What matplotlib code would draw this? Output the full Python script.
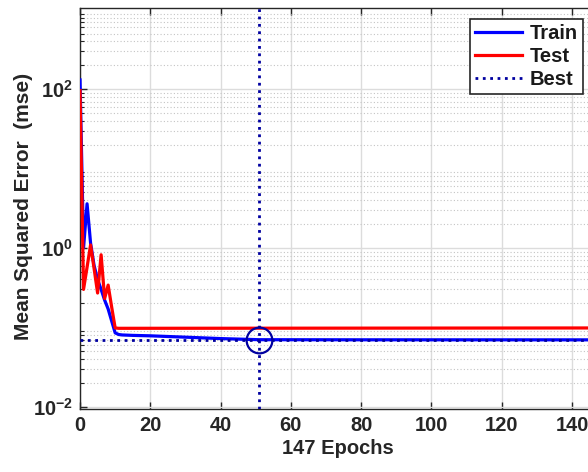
import numpy as np
import matplotlib.pyplot as plt
from matplotlib.ticker import LogLocator, NullFormatter, FixedLocator

plt.rcParams['font.family'] = ['Liberation Sans', 'DejaVu Sans']
plt.rcParams['font.weight'] = 'bold'
plt.rcParams['mathtext.fontset'] = 'custom'
plt.rcParams['mathtext.rm'] = 'Liberation Sans:bold'
plt.rcParams['mathtext.bf'] = 'Liberation Sans:bold'
plt.rcParams['mathtext.default'] = 'bf'

# performance values
train_epochs = [0, 1, 2, 3, 4, 5, 6, 7, 8, 9, 10, 11, 12, 15, 20, 30, 40, 51, 80, 147]
train_mse = [131, 1.0, 3.6, 1.15, 0.6, 0.4, 0.3, 0.22, 0.17, 0.12, 0.085,
             0.081, 0.080, 0.079, 0.078, 0.075, 0.072, 0.0697, 0.0695, 0.0694]
test_epochs = [0, 1, 2, 3, 4, 5, 6, 7, 8, 9, 10, 11, 147]
test_mse = [96, 0.3, 0.57, 1.09, 0.55, 0.27, 0.82, 0.23, 0.34, 0.18, 0.098, 0.097, 0.098]
best_epoch = 51
best_mse = 0.0697
total_epochs = 147

xticks = [0, 20, 40, 60, 80, 100, 120, 140]
yticks = [1e-2, 1e0, 1e2]
ytick_labels = [r'$10^{-2}$', r'$10^{0}$', r'$10^{2}$']

fig = plt.figure(figsize=(5.88, 4.72), dpi=100)
ax = fig.add_axes([0.1361, 0.1335, 0.8786, 0.8506])

best_col = '#0000a0'
ax.semilogy(train_epochs, train_mse, color='#0000ff', lw=2.3, label='Train', zorder=3)
ax.semilogy(test_epochs, test_mse, color='#ff0000', lw=2.3, label='Test', zorder=4)
ax.axhline(best_mse, color=best_col, ls=':', lw=2, label='Best', zorder=5)
ax.axvline(best_epoch, color=best_col, ls=':', lw=2, zorder=5)
ax.plot([best_epoch], [best_mse], 'o', mfc='none', mec=best_col, ms=18.5, mew=1.6, zorder=6)

ax.set_xlim(0, total_epochs)
ax.set_ylim(10**-2.03, 10**3.03)
ax.set_xticks(xticks)
ax.yaxis.set_major_locator(FixedLocator(yticks))
ax.set_yticklabels(ytick_labels)
ax.yaxis.set_minor_locator(LogLocator(base=10, subs=np.arange(2, 10), numticks=20))
ax.yaxis.set_minor_formatter(NullFormatter())

ax.grid(True, which='major', color='#dcdcdc', lw=1, ls='-', zorder=0)
ax.grid(True, which='minor', axis='y', color='#c4c4c4', lw=0.8, ls=(0, (1, 2)), zorder=0)
ax.set_axisbelow(True)

ax.tick_params(which='both', direction='in', top=True, right=True, colors='#262626',
               labelcolor='#262626', labelsize=14.5, pad=5)
ax.tick_params(which='major', length=5, width=1)
ax.tick_params(which='minor', length=3, width=0.8)
for s in ax.spines.values():
    s.set_color('#262626')
    s.set_linewidth(1)

ax.set_xlabel(f'{total_epochs} Epochs', fontsize=14.5, fontweight='bold', color='#262626', labelpad=3)
ax.set_ylabel('Mean Squared Error  (mse)', fontsize=15, fontweight='bold', color='#262626')
ax.yaxis.set_label_coords(-0.091, 0.505)

leg = ax.legend(loc='upper right', bbox_to_anchor=(583 / 588, 1 - 19 / 472),
                bbox_transform=fig.transFigure, fontsize=14.5, fancybox=False,
                edgecolor='#262626', framealpha=1, handlelength=2.3,
                borderpad=0.25, labelspacing=0.2, handletextpad=0.4, borderaxespad=0)
leg.get_frame().set_linewidth(1.2)
for t in leg.get_texts():
    t.set_color('#1a1a1a')

fig.savefig('out.png', dpi=100)
